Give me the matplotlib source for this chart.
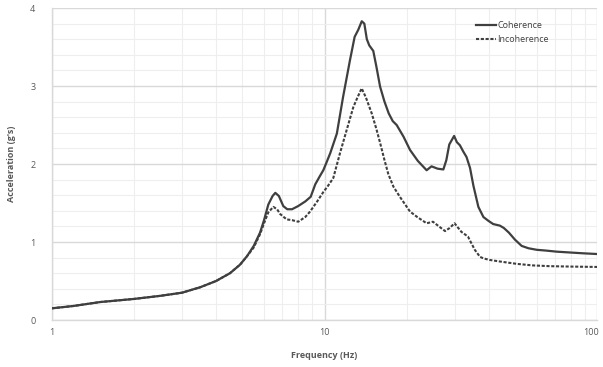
import numpy as np
import matplotlib
matplotlib.use("Agg")
import matplotlib.pyplot as plt
import matplotlib.transforms as mtransforms
from matplotlib.ticker import LogLocator, MultipleLocator, FixedLocator, NullFormatter

# Coherence curve (frequency Hz, acceleration g's)
coh_freq = [1.0, 1.2, 1.5, 2.0, 2.5, 3.0, 3.5, 4.0, 4.5, 4.9, 5.2, 5.5, 5.8, 6.0, 6.22, 6.45, 6.6, 6.8,
            7.06, 7.3, 7.6, 8.0, 8.5, 8.9, 9.25, 9.6, 9.9, 10.2, 10.5, 11.1, 11.7, 12.4, 12.9, 13.3,
            13.7, 14.0, 14.3, 14.6, 15.1, 15.5, 16.0, 16.6, 17.2, 17.8, 18.4, 19.5, 20.6, 22.0, 23.7,
            24.7, 26.0, 27.3, 28.0, 28.7, 29.9, 30.6, 31.4, 32.3, 33.2, 34.2, 35.2, 36.7, 38.3, 40.0,
            41.6, 44.0, 45.5, 47.5, 50.0, 52.9, 56.0, 60.1, 65.0, 71.2, 80.0, 89.0, 100.0]
coh_acc = [0.15, 0.18, 0.23, 0.27, 0.31, 0.35, 0.42, 0.50, 0.60, 0.71, 0.82, 0.95, 1.12, 1.28, 1.48, 1.59, 1.63, 1.59,
           1.46, 1.42, 1.42, 1.46, 1.52, 1.58, 1.74, 1.84, 1.92, 2.03, 2.14, 2.39, 2.86, 3.33, 3.63, 3.72,
           3.83, 3.80, 3.60, 3.52, 3.45, 3.25, 2.99, 2.80, 2.65, 2.55, 2.50, 2.35, 2.18, 2.04, 1.92,
           1.97, 1.94, 1.93, 2.05, 2.25, 2.36, 2.28, 2.24, 2.16, 2.09, 1.95, 1.72, 1.45, 1.32, 1.27,
           1.23, 1.21, 1.18, 1.12, 1.03, 0.95, 0.92, 0.90, 0.89, 0.876, 0.865, 0.855, 0.846]

# Incoherence curve
inc_freq = [1.0, 1.2, 1.5, 2.0, 2.5, 3.0, 3.5, 4.0, 4.5, 4.9, 5.2, 5.5, 5.8, 6.0, 6.22, 6.49, 6.7,
            6.87, 7.26, 7.6, 8.01, 8.5, 8.85, 9.4, 9.9, 10.3, 10.77, 11.4, 12.07, 12.76, 13.2, 13.69,
            14.2, 14.9, 15.5, 16.0, 16.6, 17.15, 17.9, 18.9, 20.6, 21.9, 23.7, 25.0, 26.3, 27.7, 28.8,
            30.0, 31.8, 33.6, 35.6, 37.2, 38.3, 40.4, 44.0, 50.7, 58.0, 67.2, 80.0, 100.0]
inc_acc = [0.15, 0.18, 0.23, 0.27, 0.31, 0.35, 0.42, 0.50, 0.60, 0.71, 0.82, 0.93, 1.10, 1.24, 1.38, 1.45, 1.42,
           1.36, 1.29, 1.28, 1.26, 1.32, 1.39, 1.52, 1.64, 1.72, 1.82, 2.14, 2.44, 2.73, 2.85, 2.97,
           2.85, 2.65, 2.45, 2.27, 2.05, 1.87, 1.71, 1.58, 1.39, 1.32, 1.24, 1.26, 1.20, 1.14, 1.18,
           1.24, 1.13, 1.07, 0.90, 0.81, 0.79, 0.77, 0.75, 0.72, 0.70, 0.69, 0.685, 0.68]

x_ticks = [1, 10, 100]
x_tick_labels = ["1", "10", "100"]
y_ticks = [0, 1, 2, 3, 4]

plt.rcParams['font.family'] = ['Open Sans', 'DejaVu Sans']

fig = plt.figure(figsize=(6.03, 3.67), dpi=100)
ax = fig.add_axes([52/603, 1-320/367, (597-52)/603, (320-8)/367])

line_col = '#3f3f3f'
ax.plot(coh_freq, coh_acc, color=line_col, lw=1.6, label='Coherence', zorder=3)
ax.plot(inc_freq, inc_acc, color=line_col, lw=1.5, linestyle=(0, (1.5, 0.8)), label='Incoherence', zorder=3)

ax.set_xscale('log')
ax.set_xlim(1, 100)
ax.set_ylim(0, 4)
ax.xaxis.set_major_locator(FixedLocator(x_ticks))
ax.set_xticklabels(x_tick_labels)
ax.xaxis.set_minor_locator(LogLocator(base=10, subs=np.arange(2, 10)))
ax.xaxis.set_minor_formatter(NullFormatter())
ax.yaxis.set_major_locator(FixedLocator(y_ticks))
ax.yaxis.set_minor_locator(MultipleLocator(0.2))

ax.grid(which='major', color='#d9d9d9', lw=1.0, zorder=0)
ax.grid(which='minor', color='#eeeeee', lw=0.8, zorder=0)
for side in ['top', 'right']:
    ax.spines[side].set_visible(False)
for side in ['left', 'bottom']:
    ax.spines[side].set_color('#d9d9d9')
    ax.spines[side].set_linewidth(1.0)

ax.tick_params(which='both', length=0, colors='#595959', labelsize=6.5)
ax.tick_params(axis='y', pad=12)
ax.tick_params(axis='x', pad=6)

# keep the last x label inside the figure
last = ax.get_xticklabels()[-1]
last.set_transform(last.get_transform() + mtransforms.ScaledTranslation(-6/100, 0, fig.dpi_scale_trans))

ax.set_xlabel('Frequency (Hz)', fontsize=6.5, color='#595959', fontweight='bold', labelpad=10)
ax.set_ylabel("Acceleration (g's)", fontsize=6.5, color='#595959', fontweight='bold', labelpad=10)

leg = ax.legend(loc='upper left', bbox_to_anchor=(0.772, 0.97), frameon=False, fontsize=6.5,
                handlelength=2.2, handletextpad=0.1, labelspacing=0.55, borderaxespad=0)
for t in leg.get_texts():
    t.set_color('#404040')

fig.savefig('out.png', dpi=100, facecolor='white')
